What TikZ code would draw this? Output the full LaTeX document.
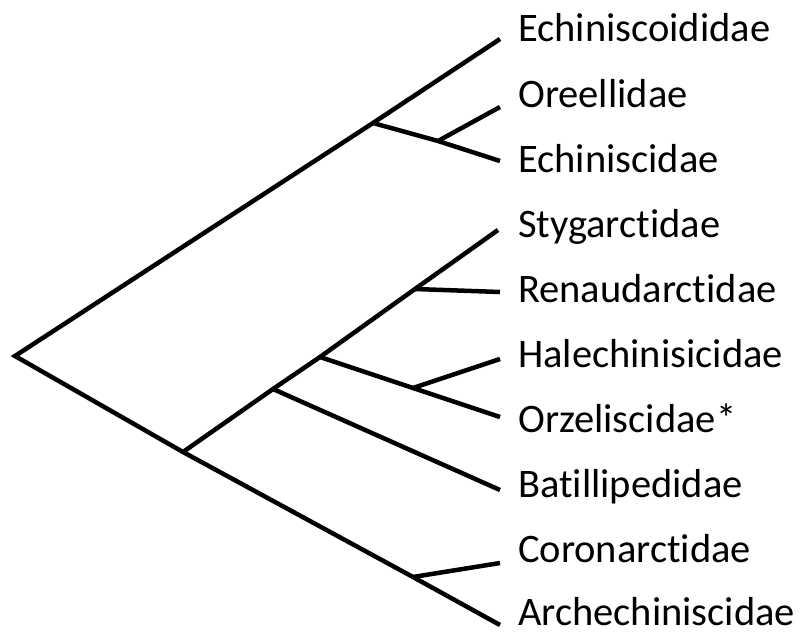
\documentclass[tikz,border=0pt]{standalone}
\usepackage{fontspec}
\setmainfont{Carlito}[RawFeature={-liga}]
\begin{document}
\begin{tikzpicture}[x=1pt,y=-1pt,
  branch/.style={line width=4.5pt,line cap=butt,line join=miter,black},
  taxon/.style={anchor=base west,inner sep=0pt,font=\fontsize{40.5}{48}\selectfont}]
\useasboundingbox (0,0) rectangle (800,634);
% internal nodes
\coordinate (root) at (15,356);
\coordinate (A) at (373,123);
\coordinate (B) at (438,141);
\coordinate (G) at (183,452);
\coordinate (F) at (273,389);
\coordinate (E) at (320,357);
\coordinate (C) at (415,289);
\coordinate (D) at (413,388);
\coordinate (H) at (413,577);
% tips
\coordinate (t1) at (500,39);
\coordinate (t2) at (500,107);
\coordinate (t3) at (500,161);
\coordinate (t4) at (498,230);
\coordinate (t5) at (500,292);
\coordinate (t6) at (500,359);
\coordinate (t7) at (500,417);
\coordinate (t8) at (500,490);
\coordinate (t9) at (500,563);
\coordinate (t10) at (500,625);
% branches
\draw[branch] (t1) -- (A) -- (root) -- (G) -- (H) -- (t10);
\draw[branch] (A) -- (B) -- (t3);
\draw[branch] (B) -- (t2);
\draw[branch] (G) -- (F) -- (E) -- (C) -- (t4);
\draw[branch] (C) -- (t5);
\draw[branch] (E) -- (D) -- (t7);
\draw[branch] (D) -- (t6);
\draw[branch] (F) -- (t8);
\draw[branch] (H) -- (t9);
% labels
\node[taxon] (l1) at (518,42) {Echiniscoididae};
\node[taxon] (l2) at (518,107) {Oreellidae};
\node[taxon] (l3) at (518,172) {Echiniscidae};
\node[taxon] (l4) at (518,237) {Stygarctidae};
\node[taxon] (l5) at (518,302) {Renaudarctidae};
\node[taxon] (l6) at (518,367) {Halechinisicidae};
\node[taxon] (l7) at (518,432) {Orzeliscidae*};
\node[taxon] (l8) at (518,497) {Batillipedidae};
\node[taxon] (l9) at (518,562) {Coronarctidae};
\node[taxon] (l10) at (518,625) {Archechiniscidae};
\end{tikzpicture}
\end{document}
